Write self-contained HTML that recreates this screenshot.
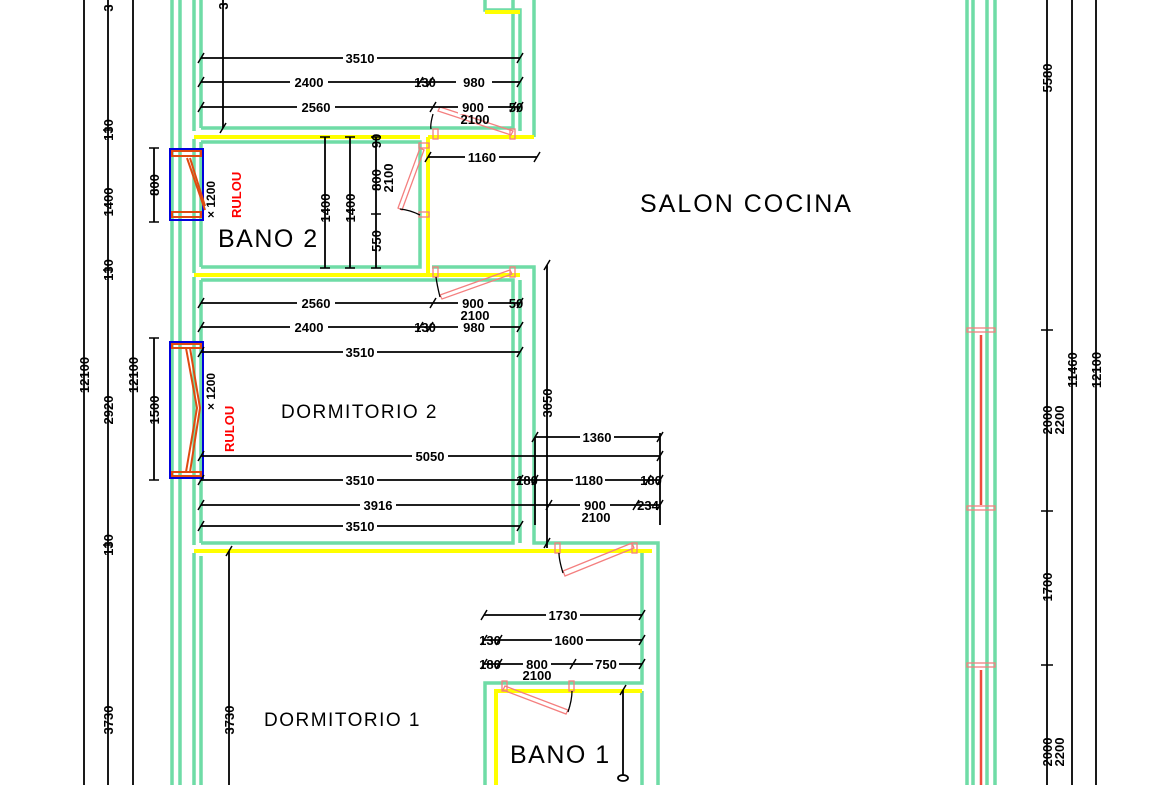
<!DOCTYPE html>
<html><head><meta charset="utf-8"><style>
html,body{margin:0;padding:0;background:#fff;width:1170px;height:785px;overflow:hidden}
svg{display:block}
text{font-family:"Liberation Sans",sans-serif;fill:#000}
.d{font-size:13px;text-anchor:middle;font-weight:bold}
</style></head><body>
<svg width="1170" height="785" viewBox="0 0 1170 785" xmlns="http://www.w3.org/2000/svg">
<g fill="none" stroke="#6fdca6" stroke-width="3.5">
<line x1="172" y1="0" x2="172" y2="785"/><line x1="180" y1="0" x2="180" y2="785"/>
<line x1="194" y1="0" x2="194" y2="131"/><line x1="201" y1="0" x2="201" y2="128"/>
<line x1="194" y1="139" x2="194" y2="273"/><line x1="201" y1="142" x2="201" y2="267"/>
<line x1="194" y1="277" x2="194" y2="545"/><line x1="201" y1="280" x2="201" y2="543"/>
<line x1="194" y1="553" x2="194" y2="785"/><line x1="201" y1="556" x2="201" y2="785"/>
<polyline points="201,128 513,128 513,0"/>
<polyline points="485,0 485,10 520,10 520,131"/>
<line x1="534" y1="0" x2="534" y2="137"/>
<polyline points="201,142 420,142 420,267 201,267"/>
<polyline points="432,267 534,267 534,543 658,543 658,785"/>
<polyline points="201,280 513,280 513,543 201,543"/>
<line x1="520" y1="280" x2="520" y2="543"/>
<polyline points="642,551 642,683 485,683 485,785"/>
<line x1="642" y1="691" x2="642" y2="785"/>
<line x1="967" y1="0" x2="967" y2="785"/><line x1="973" y1="0" x2="973" y2="785"/>
<line x1="987" y1="0" x2="987" y2="785"/><line x1="995" y1="0" x2="995" y2="785"/>
</g>
<g stroke="#ffff00" stroke-width="4" fill="none">
<line x1="485" y1="12" x2="520" y2="12"/>
<line x1="194" y1="137" x2="420" y2="137"/>
<line x1="428" y1="137" x2="534" y2="137"/>
<line x1="428" y1="137" x2="428" y2="273"/>
<line x1="194" y1="275" x2="520" y2="275"/>
<line x1="194" y1="551" x2="652" y2="551"/>
<polyline points="642,691 496,691 496,785"/>
</g>
<g stroke="#f47f7f" stroke-width="1.3" fill="none">
<rect x="433" y="129" width="5" height="10"/><rect x="510" y="129" width="5" height="10"/>
<polygon points="440,107 513,131 511,135 438,111"/>
<rect x="419" y="143" width="10" height="5"/><rect x="419" y="212" width="10" height="5"/>
<polygon points="424,150 402,210 398,208 420,148"/>
<rect x="433" y="267" width="5" height="10"/><rect x="510" y="267" width="5" height="10"/>
<polygon points="512,274 442,299 440,295 510,270"/>
<rect x="555" y="543" width="5" height="10"/><rect x="632" y="543" width="5" height="10"/>
<polygon points="634,548 565,576 563,571 632,543"/>
<rect x="502" y="681" width="5" height="10"/><rect x="569" y="681" width="5" height="10"/>
<polygon points="505,686 568,710 566,714 503,690"/>
<rect x="967" y="328" width="28" height="4"/><rect x="967" y="506" width="28" height="4"/>
<rect x="967" y="663" width="28" height="4"/>
</g>
<g stroke="#ef4c3c" stroke-width="2.5"><line x1="981" y1="335" x2="981" y2="505"/><line x1="981" y1="670" x2="981" y2="785"/></g>
<g stroke="#000" stroke-width="1.3" fill="none">
<path d="M433,114 Q430,125 431,129"/><path d="M400,209 Q410,210 420,215"/>
<path d="M440,297 Q437,285 436,277"/><path d="M563,573 Q559,560 559,553"/>
<path d="M568,712 Q572,700 572,691"/>
</g>
<g>
<rect x="170" y="149" width="33" height="71" fill="none" stroke="#0000dd" stroke-width="2"/>
<g stroke="#e04a10" stroke-width="2" fill="none"><rect x="172" y="151" width="29" height="5"/><rect x="172" y="212" width="29" height="5"/><line x1="187" y1="158" x2="205" y2="210"/><line x1="190" y1="158" x2="205" y2="206"/></g>
<rect x="170" y="342" width="33" height="136" fill="none" stroke="#0000dd" stroke-width="2"/>
<g stroke="#e04a10" stroke-width="2" fill="none"><rect x="172" y="344" width="29" height="4"/><rect x="172" y="472" width="29" height="4"/><polyline points="186,348 197,408 186,472"/><polyline points="190,348 200,408 190,472"/></g>
<text x="215" y="218" transform="rotate(-90 215 218)" font-size="12" font-weight="bold">× 1200</text>
<text x="241" y="218" transform="rotate(-90 241 218)" font-size="13" font-weight="bold" style="fill:#f00">RULOU</text>
<text x="215" y="410" transform="rotate(-90 215 410)" font-size="12" font-weight="bold">× 1200</text>
<text x="234" y="452" transform="rotate(-90 234 452)" font-size="13" font-weight="bold" style="fill:#f00">RULOU</text>
</g>
<g stroke="#000" stroke-width="1.8" fill="none">
<line x1="84" y1="0" x2="84" y2="785"/><line x1="108" y1="0" x2="108" y2="785"/><line x1="133" y1="0" x2="133" y2="785"/>
<line x1="201" y1="58" x2="520" y2="58"/><line x1="201" y1="82" x2="520" y2="82"/><line x1="201" y1="107" x2="520" y2="107"/>
<line x1="223" y1="0" x2="223" y2="128"/>
<line x1="428" y1="157" x2="537" y2="157"/>
<line x1="325" y1="137" x2="325" y2="268"/><line x1="350" y1="137" x2="350" y2="268"/><line x1="376" y1="137" x2="376" y2="268"/>
<line x1="154" y1="148" x2="154" y2="222"/><line x1="154" y1="338" x2="154" y2="480"/>
<line x1="201" y1="303" x2="520" y2="303"/><line x1="201" y1="327" x2="520" y2="327"/><line x1="201" y1="352" x2="520" y2="352"/>
<line x1="201" y1="456" x2="660" y2="456"/><line x1="201" y1="480" x2="660" y2="480"/><line x1="201" y1="505" x2="660" y2="505"/><line x1="201" y1="526" x2="520" y2="526"/>
<line x1="535" y1="437" x2="660" y2="437"/>
<line x1="547" y1="265" x2="547" y2="548"/><line x1="535" y1="437" x2="535" y2="525"/><line x1="660" y1="433" x2="660" y2="525"/>
<line x1="229" y1="551" x2="229" y2="785"/>
<line x1="484" y1="615" x2="642" y2="615"/><line x1="484" y1="640" x2="642" y2="640"/><line x1="484" y1="664" x2="642" y2="664"/>
<line x1="623" y1="690" x2="623" y2="775"/><ellipse cx="623" cy="778" rx="5" ry="3"/>
<line x1="1047" y1="0" x2="1047" y2="785"/><line x1="1072" y1="0" x2="1072" y2="785"/><line x1="1096" y1="0" x2="1096" y2="785"/>
</g>
<g stroke="#000" stroke-width="1.5">
<path d="M198,63 l6,-10 M198,87 l6,-10 M198,112 l6,-10 M517,63 l6,-10 M517,87 l6,-10 M517,112 l6,-10 M417,87 l6,-10 M427,87 l6,-10 M430,112 l6,-10 M510,112 l6,-10 M220,133 l6,-10 M425,162 l6,-10 M534,162 l6,-10"/>
<path d="M198,308 l6,-10 M198,332 l6,-10 M198,357 l6,-10 M517,308 l6,-10 M517,332 l6,-10 M517,357 l6,-10 M430,308 l6,-10 M417,332 l6,-10 M427,332 l6,-10"/>
<path d="M198,461 l6,-10 M198,485 l6,-10 M198,510 l6,-10 M198,531 l6,-10 M517,485 l6,-10 M517,531 l6,-10 M532,485 l6,-10 M645,485 l6,-10 M657,461 l6,-10 M657,485 l6,-10 M657,442 l6,-10 M532,442 l6,-10 M546,510 l6,-10 M633,510 l6,-10 M657,510 l6,-10 M226,556 l6,-10 M544,270 l6,-10 M544,548 l6,-10"/>
<path d="M481,620 l6,-10 M639,620 l6,-10 M481,645 l6,-10 M496,645 l6,-10 M639,645 l6,-10 M481,669 l6,-10 M496,669 l6,-10 M570,669 l6,-10 M639,669 l6,-10 M620,695 l6,-10"/>
<path d="M320,137 h10 M345,137 h10 M371,137 h10 M320,268 h10 M345,268 h10 M371,268 h10 M371,214 h10 M149,148 h10 M149,222 h10 M149,338 h10 M149,480 h10 M1041,330 h12 M1041,511 h12 M1041,665 h12 M103,130 h10 M103,270 h10 M103,545 h10"/>
</g>
<g class="d">
<g stroke="none">
<rect x="343" y="51" width="34" height="14" style="fill:#fff"/><rect x="290" y="75" width="38" height="14" style="fill:#fff"/><rect x="456" y="75" width="36" height="14" style="fill:#fff"/>
<rect x="297" y="100" width="38" height="14" style="fill:#fff"/><rect x="458" y="100" width="30" height="14" style="fill:#fff"/>
<rect x="465" y="150" width="34" height="14" style="fill:#fff"/>
<rect x="297" y="296" width="38" height="14" style="fill:#fff"/><rect x="458" y="296" width="30" height="14" style="fill:#fff"/>
<rect x="290" y="320" width="38" height="14" style="fill:#fff"/><rect x="458" y="320" width="32" height="14" style="fill:#fff"/>
<rect x="343" y="345" width="34" height="14" style="fill:#fff"/><rect x="412" y="449" width="36" height="14" style="fill:#fff"/>
<rect x="343" y="473" width="34" height="14" style="fill:#fff"/><rect x="573" y="473" width="32" height="14" style="fill:#fff"/>
<rect x="360" y="498" width="36" height="14" style="fill:#fff"/><rect x="580" y="498" width="30" height="14" style="fill:#fff"/>
<rect x="343" y="519" width="34" height="14" style="fill:#fff"/><rect x="580" y="430" width="34" height="14" style="fill:#fff"/>
<rect x="546" y="608" width="34" height="14" style="fill:#fff"/><rect x="552" y="633" width="34" height="14" style="fill:#fff"/>
<rect x="523" y="657" width="28" height="14" style="fill:#fff"/><rect x="593" y="657" width="26" height="14" style="fill:#fff"/>
</g>
<text x="360" y="63">3510</text><text x="309" y="87">2400</text><text x="425" y="87">130</text><text x="474" y="87">980</text>
<text x="316" y="112">2560</text><text x="473" y="112">900</text><text x="475" y="124">2100</text><text x="516" y="112">50</text>
<text x="482" y="162">1160</text>
<text x="316" y="308">2560</text><text x="473" y="308">900</text><text x="475" y="320">2100</text><text x="516" y="308">50</text>
<text x="309" y="332">2400</text><text x="425" y="332">130</text><text x="474" y="332">980</text>
<text x="360" y="357">3510</text><text x="430" y="461">5050</text>
<text x="360" y="485">3510</text><text x="527" y="485">180</text><text x="589" y="485">1180</text><text x="651" y="485">180</text>
<text x="378" y="510">3916</text><text x="595" y="510">900</text><text x="596" y="522">2100</text><text x="648" y="510">234</text>
<text x="360" y="531">3510</text><text x="597" y="442">1360</text>
<text x="563" y="620">1730</text><text x="490" y="645">130</text><text x="569" y="645">1600</text>
<text x="490" y="669">180</text><text x="537" y="669">800</text><text x="606" y="669">750</text><text x="537" y="680">2100</text>
</g>
<g class="d">
<text transform="translate(89,375) rotate(-90)">12100</text>
<text transform="translate(113,8) rotate(-90)">3</text>
<text transform="translate(113,130) rotate(-90)">130</text>
<text transform="translate(113,202) rotate(-90)">1400</text>
<text transform="translate(113,270) rotate(-90)">130</text>
<text transform="translate(113,410) rotate(-90)">2920</text>
<text transform="translate(113,545) rotate(-90)">130</text>
<text transform="translate(113,720) rotate(-90)">3730</text>
<text transform="translate(138,375) rotate(-90)">12100</text>
<text transform="translate(228,6) rotate(-90)">3</text>
<text transform="translate(159,185) rotate(-90)">800</text>
<text transform="translate(159,410) rotate(-90)">1500</text>
<text transform="translate(330,208) rotate(-90)">1400</text>
<text transform="translate(355,208) rotate(-90)">1400</text>
<text transform="translate(381,180) rotate(-90)">800</text>
<text transform="translate(393,178) rotate(-90)">2100</text>
<text transform="translate(381,241) rotate(-90)">550</text>
<text transform="translate(381,141) rotate(-90)">90</text>
<text transform="translate(552,403) rotate(-90)">3050</text>
<text transform="translate(234,720) rotate(-90)">3730</text>
<text transform="translate(1052,78) rotate(-90)">5580</text>
<text transform="translate(1052,420) rotate(-90)">2000</text>
<text transform="translate(1064,420) rotate(-90)">2200</text>
<text transform="translate(1052,587) rotate(-90)">1700</text>
<text transform="translate(1052,752) rotate(-90)">2000</text>
<text transform="translate(1064,752) rotate(-90)">2200</text>
<text transform="translate(1077,370) rotate(-90)">11460</text>
<text transform="translate(1101,370) rotate(-90)">12100</text>
</g>
<text x="640" y="212" font-size="25" letter-spacing="2">SALON COCINA</text>
<text x="218" y="247" font-size="25" letter-spacing="1.5">BANO 2</text>
<text x="281" y="418" font-size="19" letter-spacing="1.5">DORMITORIO 2</text>
<text x="264" y="726" font-size="19" letter-spacing="1.5">DORMITORIO 1</text>
<text x="510" y="763" font-size="25" letter-spacing="1.5">BANO 1</text>
</svg>
</body></html>
